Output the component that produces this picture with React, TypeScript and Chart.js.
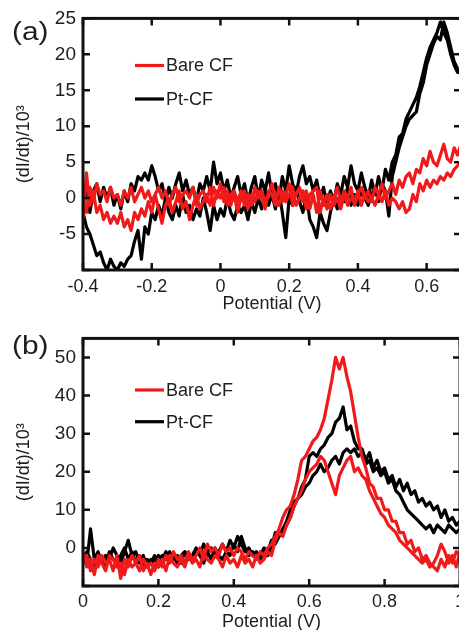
import React, { useEffect, useRef } from 'react';
import { Chart, registerables } from 'chart.js';

Chart.register(...registerables);

// ---------- Panel (a) data ----------
const potentialA = [
  -0.40, -0.39, -0.38, -0.37, -0.36, -0.35, -0.34, -0.33, -0.32, -0.31,
  -0.30, -0.29, -0.28, -0.27, -0.26, -0.25, -0.24, -0.23, -0.22, -0.21,
  -0.20, -0.19, -0.18, -0.17, -0.16, -0.15, -0.14, -0.13, -0.12, -0.11,
  -0.10, -0.09, -0.08, -0.07, -0.06, -0.05, -0.04, -0.03, -0.02, -0.01,
  0.00, 0.01, 0.02, 0.03, 0.04, 0.05, 0.06, 0.07, 0.08, 0.09,
  0.10, 0.11, 0.12, 0.13, 0.14, 0.15, 0.16, 0.17, 0.18, 0.19,
  0.20, 0.21, 0.22, 0.23, 0.24, 0.25, 0.26, 0.27, 0.28, 0.29,
  0.30, 0.31, 0.32, 0.33, 0.34, 0.35, 0.36, 0.37, 0.38, 0.39,
  0.40, 0.41, 0.42, 0.43, 0.44, 0.45, 0.46, 0.47, 0.48, 0.49,
  0.50, 0.51, 0.52, 0.53, 0.54, 0.55, 0.56, 0.57, 0.58, 0.59,
  0.60, 0.61, 0.62, 0.63, 0.64, 0.65, 0.66, 0.67, 0.68, 0.69,
  0.70,
];
const bareA1 = [
  -3, 3.5, -1, 1, -2, -1, -3, -2, -3.5, -2.5,
  -3.5, -2, -4, -3, -4.5, -2, -3, -1.5, -2.5, -0.5,
  -2, 0.5, -1.5, -3.5, -1, 0, -2, -0.5, 1, -1.5,
  -0.5, -3, -1, 0.5, -1.5, -0.5, 0.5, -1, 1.5, 0,
  2, -0.5, 1, -1, 0.5, -2, 0, 1, -1.5, 0.5,
  -0.5, 1, 0, -1.5, 1, 0.5, -1, 1.5, -0.5, 0.5,
  2, -1, 0.5, 1.5, -0.5, 1, -1.5, 0.5, -2, 1,
  -1, 0.5, -1.5, 0, 1.5, -0.5, 1, 0, 1.5, -1,
  0.5, 1.5, 0, 1, -0.5, 1.5, 0.5, 2, 0, 1,
  2, 0.5, 2.5, 1.5, 3, 3.5, 2, 4, 3.5, 5.5,
  4.5, 6.5, 5, 4.5, 6, 7.5, 5.5, 5, 7, 6,
  7.5,
];
const bareA2 = [
  0, -2, 1.5, -0.5, 2, 0.5, 1, -0.5, 1.5, 0,
  0.5, -1, 1, 0, 1.5, -0.5, 0.5, 1.5, 0, 1,
  -0.5, 0.5, 1.5, 0, 1, -1, 0.5, 1.5, -0.5, 0.5,
  1, 0, 1.5, -1, 0.5, 1, -0.5, 1.5, -1, 1,
  0, 1.5, -1, 0.5, 1, -0.5, 1, -1, 0.5, -1,
  1.5, 0, 1, -0.5, 0.5, 2, 0, -1, 1, -0.5,
  0.5, 1.5, -1, 0, 1, -1.5, 0.5, 1, 1.5, -2,
  0, -1.5, 0.5, -1, 0, -1.5, 0.5, -1, 0, -0.5,
  1, -1, 0.5, -0.5, 0, -1, 0.5, -0.5, 1, -1,
  0, -0.5, -1.5, -0.5, -2, -1.5, 0.5, -0.5, 2, 1,
  2.5, 1.5, 2.5, 2, 3, 2.5, 3.5, 3, 4, 4.5,
  5,
];
const ptA1 = [
  -2, -4, -5, -6.5, -8, -7.5, -9, -10, -8.5, -9.5,
  -10, -9, -9.5, -8.5, -8, -6, -4.5, -8.5, -4, -5,
  -2, -3, -1, -2.5, 0, -2, -3, -1, -2.5, 0.5,
  -2, -1, -3, -1.5, -2.5, 0, -2, -4.5, -1, -3,
  -1.5, -2.5, 0, -2, -3, -1, -2, -1, -3, -0.5,
  -2, 0, -1.5, 1, -1, 0.5, -1.5, 1, -2, -5.5,
  0, -1, 1.5, -0.5, -2, 0.5, -3, -4, -5.5, -2,
  -3.5, -4.5, -2, 0, -1.5, 1, -0.5, 1.5, -1, 0.5,
  -1, 1, 0, -1, 0.5, 1.5, -0.5, 2, 1, -2.5,
  3, 5, 7, 8.5, 10, 11, 11.5, 12, 14.5, 16,
  18.5, 20, 21.5, 22.5, 22, 24.5, 23, 21, 19, 18,
  17.5,
];
const ptA2 = [
  -1, 1.5, -2, 1, 2, -0.5, 1.5, 0, 1.5, -1,
  0.5, -1.5, 1, -0.5, 2, 1, 3, 2.5, 3.5, 2.5,
  4.5, 3, 1, 2, -0.5, 1.5, 0, 2, 3.5, 1,
  2.5, 0.5, 1.5, -0.5, 2, 1, 3, 1, 5, 2,
  3.5, 1, 2.5, 0, 1.5, 3, 0.5, 2, -0.5, 1.5,
  3, 0, 2.5, 1, 3.5, 0.5, 2, -0.5, 3, 1,
  4.5, 2, 0.5, 3, 4.5, 2, 3, 1, 2.5, 0,
  1.5, -1, 1, -0.5, 2, 0.5, 3, 1.5, 4.5, 2,
  1, 3.5, 1.5, 0, 2.5, 0.5, 3, 1, 4, 2.5,
  5, 6, 8.5, 9, 11, 12, 13, 14, 15.5, 17.5,
  19.5, 21, 22, 23, 24.5, 23, 22, 20, 18.5, 17.5,
  17.5,
];

// ---------- Panel (b) data ----------
const potentialB = [
  0.00, 0.01, 0.02, 0.03, 0.04, 0.05, 0.06, 0.07, 0.08, 0.09,
  0.10, 0.11, 0.12, 0.13, 0.14, 0.15, 0.16, 0.17, 0.18, 0.19,
  0.20, 0.21, 0.22, 0.23, 0.24, 0.25, 0.26, 0.27, 0.28, 0.29,
  0.30, 0.31, 0.32, 0.33, 0.34, 0.35, 0.36, 0.37, 0.38, 0.39,
  0.40, 0.41, 0.42, 0.43, 0.44, 0.45, 0.46, 0.47, 0.48, 0.49,
  0.50, 0.51, 0.52, 0.53, 0.54, 0.55, 0.56, 0.57, 0.58, 0.59,
  0.60, 0.61, 0.62, 0.63, 0.64, 0.65, 0.66, 0.67, 0.68, 0.69,
  0.70, 0.71, 0.72, 0.73, 0.74, 0.75, 0.76, 0.77, 0.78, 0.79,
  0.80, 0.81, 0.82, 0.83, 0.84, 0.85, 0.86, 0.87, 0.88, 0.89,
  0.90, 0.91, 0.92, 0.93, 0.94, 0.95, 0.96, 0.97, 0.98, 0.99,
  1.00,
];
const bareB1 = [
  -4, -2, -6, -3, -5, -2, -4, -3, -6, -2,
  -8, -3, -5, -2, -4, -6, -3, -5, -4, -6,
  -3, -5, -2, -4, -1, -3, -2, -4, -1, -3,
  -2, 0, -3, 1, -1, 0, -2, 1, -1, 0,
  -2, 0, -1, -3, -1, -2, -3, -1, -2, 0,
  1, 3, 5, 8, 10, 11, 14, 18, 23, 24,
  26, 28, 29, 31, 34, 39, 44, 50, 47, 50,
  45, 41, 35, 29, 24, 21, 17, 16, 13, 13,
  10, 10, 7, 7, 4, 4, 1, 2, -1, 0,
  -3, -2, -4, -5, -6, -3, -5, -2, -4, -1,
  -2,
];
const bareB2 = [
  -1, -5, -3, -7, -2, -4, -6, -2, -3, -5,
  -4, -7, -3, -5, -4, -2, -6, -4, -7, -4,
  -5, -3, -6, -2, -4, -5, -3, -5, -2, -4,
  -3, -5, -1, -3, -4, -2, -3, -5, -2, -4,
  -3, -5, -2, -4, -3, -5, -2, -4, -3, -1,
  -2, 2, 4, 3, 6, 8, 11, 13, 15, 18,
  20, 21, 22, 24, 23, 20, 17, 14, 19, 21,
  23, 24, 20, 21, 19, 18, 15, 13, 11, 9,
  8, 6, 5, 4, 2, 1, 0, -1, -2, -3,
  -4, -3, -5, -4, -2, 1, -1, -4, -2, -5,
  -1,
];
const ptB1 = [
  -2, -4, 5, -3, -1, -4, -2, -3, 0, -2,
  -4, -1, 2, -2, -1, -4, -2, -5, -3, -4,
  -2, -3, -1, -3, -2, -4, -2, -1, -3, -2,
  0, -2, 1, -1, 0, -2, -1, 1, -1, 2,
  0, 3, 1, -1, 0, -2, -1, -3, -1, -2,
  0, 4, 3, 5, 7, 10, 12, 13, 16, 18,
  24, 25, 24, 26, 27, 29, 30, 33, 34, 37,
  31, 32, 28, 26, 26, 23, 25, 21, 23, 20,
  21, 18, 19, 16, 18, 15, 17, 14, 15, 12,
  13, 11, 12, 10, 11, 8, 10, 7, 8, 6,
  7,
];
const ptB2 = [
  -4, -1, -3, -5, -2, -3, -5, -1, -3, -4,
  -2, 0, -3, -1, -4, -2, -5, -3, -4, -2,
  -5, -2, -3, -1, -3, -2, -4, -1, -2, -3,
  -1, -2, -4, -1, -3, 0, -2, -3, -1, -2,
  1, -1, 3, 0, -2, -1, -3, -2, 0, -1,
  2, 1, 3, 4, 6, 8, 11, 13, 14, 16,
  17, 19, 20, 22, 20, 21, 23, 24, 22, 25,
  26, 25, 26, 24, 25, 22, 23, 20, 21, 19,
  20, 17, 18, 15, 14, 12, 10, 9, 8, 7,
  6, 5, 6, 4, 6, 5, 4, 6, 5, 4,
  5,
];

// ---------- Ticks / labels ----------
const seriesNames = ['Bare CF', 'Pt-CF'];
const xTicksA = [-0.4, -0.2, 0, 0.2, 0.4, 0.6];
const xTickLabelsA = ['-0.4', '-0.2', '0', '0.2', '0.4', '0.6'];
const yTicksA = [-10, -5, 0, 5, 10, 15, 20, 25];
const yTickLabelsA = ['', '-5', '0', '5', '10', '15', '20', '25'];
const xTicksB = [0, 0.2, 0.4, 0.6, 0.8, 1.0];
const xTickLabelsB = ['0', '0.2', '0.4', '0.6', '0.8', '1'];
const yTicksB = [-10, 0, 10, 20, 30, 40, 50];
const yTickLabelsB = ['', '0', '10', '20', '30', '40', '50'];

const RED = '#f01a1a';
const BLACK = '#000000';
const TEXT = '#1e1e1e';
const FONT = '"Liberation Sans", Arial, Helvetica, sans-serif';

const CANVAS_W = 470;
const CANVAS_H = 320;

type PanelCfg = {
  tag: string;
  top: number;
  xs: number[];
  bare: [number[], number[]];
  pt: [number[], number[]];
  xMin: number; xMax: number; yMin: number; yMax: number;
  xTicks: number[]; xLabels: string[];
  yTicks: number[]; yLabels: string[];
  padTop: number; padRight: number;
  xAxisH: number; xTickPad: number; xTitlePadBottom: number;
  tagY: number; legendY: [number, number];
};

function loop(xs: number[], fwd: number[], rev: number[]) {
  const pts = xs.map((x, i) => ({ x, y: fwd[i] }));
  for (let i = xs.length - 1; i >= 0; i--) pts.push({ x: xs[i], y: rev[i] });
  return pts;
}

function makeDecor(cfg: PanelCfg) {
  return {
    id: 'decor' + cfg.tag,
    afterDraw(chart: any) {
      const { ctx, chartArea } = chart;
      const { left, right, top, bottom } = chartArea;
      const xs = chart.scales.x;
      const ys = chart.scales.y;
      ctx.save();
      // inward tick marks
      ctx.strokeStyle = '#111';
      ctx.lineWidth = 2.5;
      const tl = 7;
      cfg.xTicks.forEach((v) => {
        const px = xs.getPixelForValue(v);
        ctx.beginPath();
        ctx.moveTo(px, bottom); ctx.lineTo(px, bottom - tl);
        ctx.moveTo(px, top); ctx.lineTo(px, top + tl);
        ctx.stroke();
      });
      cfg.yTicks.forEach((v) => {
        const py = ys.getPixelForValue(v);
        ctx.beginPath();
        ctx.moveTo(left, py); ctx.lineTo(left + tl, py);
        ctx.moveTo(right, py); ctx.lineTo(right - tl, py);
        ctx.stroke();
      });
      // frame
      ctx.lineWidth = 3;
      ctx.strokeRect(left, top, right - left, bottom - top);
      // legend
      const colors = [RED, BLACK];
      ctx.font = `18px ${FONT}`;
      ctx.textAlign = 'left';
      ctx.textBaseline = 'middle';
      seriesNames.forEach((name, i) => {
        const y = cfg.legendY[i];
        ctx.strokeStyle = colors[i];
        ctx.lineWidth = 3.2;
        ctx.beginPath();
        ctx.moveTo(135, y); ctx.lineTo(164, y);
        ctx.stroke();
        ctx.fillStyle = TEXT;
        ctx.fillText(name, 166, y + 1);
      });
      // panel tag
      ctx.font = `26px ${FONT}`;
      ctx.fillStyle = TEXT;
      ctx.translate(12, cfg.tagY);
      ctx.scale(1.15, 1);
      ctx.fillText(cfg.tag, 0, 0);
      ctx.restore();
    },
  };
}

function Panel({ cfg }: { cfg: PanelCfg }) {
  const ref = useRef<HTMLCanvasElement>(null);
  useEffect(() => {
    if (!ref.current) return;
    const chart = new Chart(ref.current, {
      type: 'line',
      data: {
        datasets: [
          {
            label: seriesNames[0],
            data: loop(cfg.xs, cfg.bare[0], cfg.bare[1]),
            borderColor: RED,
            borderWidth: 3.2,
            pointRadius: 0,
            tension: 0,
            fill: false,
            borderJoinStyle: 'round',
          },
          {
            label: seriesNames[1],
            data: loop(cfg.xs, cfg.pt[0], cfg.pt[1]),
            borderColor: BLACK,
            borderWidth: 3.2,
            pointRadius: 0,
            tension: 0,
            fill: false,
            borderJoinStyle: 'round',
          },
        ],
      } as any,
      options: {
        responsive: false,
        animation: false,
        devicePixelRatio: 1,
        layout: { padding: { top: cfg.padTop, right: cfg.padRight, left: 0, bottom: 0 } },
        plugins: { legend: { display: false }, tooltip: { enabled: false } },
        scales: {
          x: {
            type: 'linear',
            min: cfg.xMin,
            max: cfg.xMax,
            grid: { display: false, drawTicks: false },
            border: { display: false },
            afterBuildTicks: (s: any) => {
              s.ticks = cfg.xTicks.map((v) => ({ value: v }));
            },
            afterFit: (s: any) => {
              s.height = cfg.xAxisH;
            },
            ticks: {
              autoSkip: false,
              maxRotation: 0,
              padding: cfg.xTickPad,
              color: TEXT,
              font: { family: FONT, size: 18 },
              callback: (_v: any, i: number) => cfg.xLabels[i],
            },
            title: {
              display: true,
              text: 'Potential (V)',
              color: TEXT,
              font: { family: FONT, size: 18 },
              padding: { top: 0, bottom: cfg.xTitlePadBottom },
            },
          },
          y: {
            type: 'linear',
            min: cfg.yMin,
            max: cfg.yMax,
            grid: { display: false, drawTicks: false },
            border: { display: false },
            afterBuildTicks: (s: any) => {
              s.ticks = cfg.yTicks.map((v) => ({ value: v }));
            },
            afterFit: (s: any) => {
              s.width = 83;
            },
            ticks: {
              autoSkip: false,
              padding: 7,
              color: TEXT,
              font: { family: FONT, size: 19 },
              callback: (_v: any, i: number) => cfg.yLabels[i],
            },
            title: {
              display: true,
              text: '(dI/dt)/10³',
              color: TEXT,
              font: { family: FONT, size: 18 },
              padding: { top: 13, bottom: 0 },
            },
          },
        },
      } as any,
      plugins: [makeDecor(cfg)],
    });
    return () => chart.destroy();
  }, [cfg]);
  return (
    <canvas
      ref={ref}
      width={CANVAS_W}
      height={CANVAS_H}
      style={{ position: 'absolute', left: 0, top: cfg.top, width: CANVAS_W, height: CANVAS_H }}
    />
  );
}

const panelA: PanelCfg = {
  tag: '(a)',
  top: 0,
  xs: potentialA,
  bare: [bareA1, bareA2],
  pt: [ptA1, ptA2],
  xMin: -0.4, xMax: 0.7, yMin: -10, yMax: 25,
  xTicks: xTicksA, xLabels: xTickLabelsA,
  yTicks: yTicksA, yLabels: yTickLabelsA,
  padTop: 17, padRight: 9,
  xAxisH: 50, xTickPad: 6, xTitlePadBottom: 5,
  tagY: 33, legendY: [65.5, 99],
};

const panelB: PanelCfg = {
  tag: '(b)',
  top: 320,
  xs: potentialB,
  bare: [bareB1, bareB2],
  pt: [ptB1, ptB2],
  xMin: 0, xMax: 1.0, yMin: -10, yMax: 55,
  xTicks: xTicksB, xLabels: xTickLabelsB,
  yTicks: yTicksB, yLabels: yTickLabelsB,
  padTop: 14, padRight: 10,
  xAxisH: 54, xTickPad: 5, xTitlePadBottom: 7,
  tagY: 26.5, legendY: [70, 101.7],
};

export default function App() {
  return (
    <div
      style={{
        position: 'fixed',
        left: 0,
        top: 0,
        width: 459,
        height: 630,
        overflow: 'hidden',
        background: '#ffffff',
      }}
    >
      <Panel cfg={panelA} />
      <Panel cfg={panelB} />
    </div>
  );
}
